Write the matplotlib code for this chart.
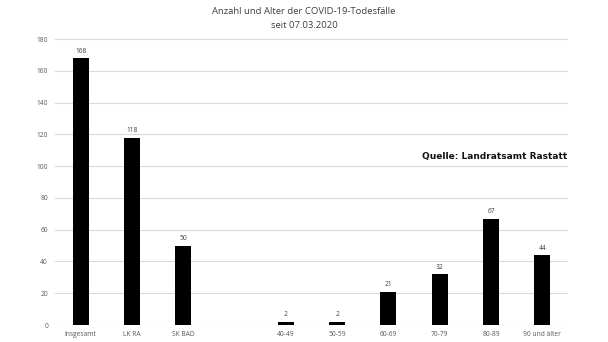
import matplotlib
matplotlib.use("Agg")
import matplotlib.pyplot as plt

categories = ["insgesamt", "LK RA", "SK BAD", "", "40-49", "50-59", "60-69", "70-79", "80-89", "90 und älter"]
values = [168, 118, 50, None, 2, 2, 21, 32, 67, 44]
yticks = [0, 20, 40, 60, 80, 100, 120, 140, 160, 180]

fig = plt.figure(figsize=(6.08, 3.42), dpi=100)
ax = fig.add_axes([55 / 608, 17 / 342, 513 / 608, 286 / 342])

xs = list(range(len(categories)))
bar_x = [x for x, v in zip(xs, values) if v is not None]
bar_v = [v for v in values if v is not None]
ax.bar(bar_x, bar_v, width=0.31, color="black", zorder=3)

for x, v in zip(bar_x, bar_v):
    ax.text(x, v + 2.2, str(v), ha="center", va="bottom", fontsize=4.8,
            color="#404040", family="Open Sans")

ax.set_xlim(-0.5, len(categories) - 0.5)
ax.set_ylim(0, 180)
ax.set_yticks(yticks)
ax.set_xticks(xs)
ax.set_xticklabels(categories)
ax.grid(axis="y", color="#d9d9d9", linewidth=0.8, zorder=0)
ax.set_axisbelow(True)
for s in ax.spines.values():
    s.set_visible(False)
ax.tick_params(length=0, labelsize=4.8, colors="#595959")
for lbl in ax.get_xticklabels() + ax.get_yticklabels():
    lbl.set_family("Open Sans")
ax.tick_params(axis="y", pad=5)
ax.tick_params(axis="x", pad=4.5)

fig.text(304 / 608, 1 - 12 / 342, "Anzahl und Alter der COVID-19-Todesfälle",
         ha="center", va="center", fontsize=6.8, color="#404040", family="Open Sans")
fig.text(304 / 608, 1 - 26 / 342, "seit 07.03.2020",
         ha="center", va="center", fontsize=6.8, color="#404040", family="Open Sans")

fig.text(422 / 608, 1 - 157 / 342, "Quelle: Landratsamt Rastatt",
         ha="left", va="center", fontsize=6.45, color="#111111", family="DejaVu Sans",
         fontweight="bold")

fig.savefig("out.png", dpi=100)
